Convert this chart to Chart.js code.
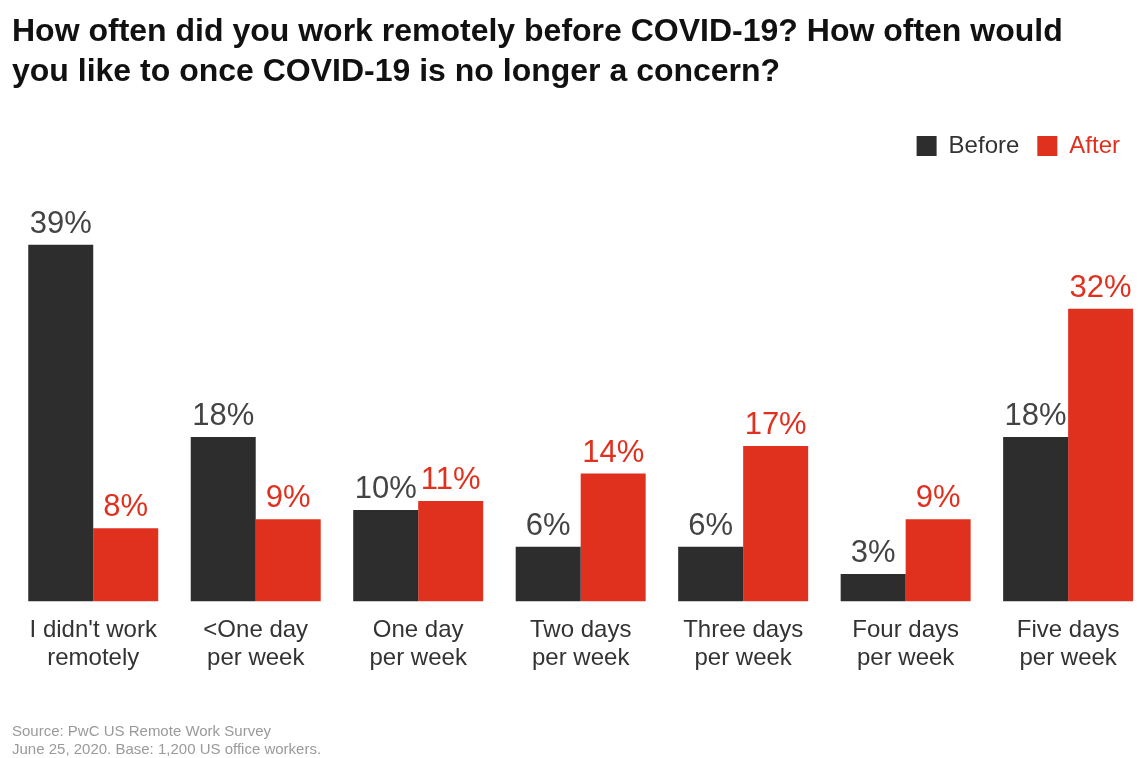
<!DOCTYPE html>
<html>
<head>
<meta charset="utf-8">
<script src="https://cdn.jsdelivr.net/npm/chart.js@4"></script>
<style>
  html, body { margin: 0; padding: 0; background: #fff; }
  #wrap { width: 1138px; height: 758px; }
</style>
</head>
<body>
<div id="wrap"><canvas id="chart"></canvas></div>
<script>
const categories = [
  ["I didn't work", "remotely"],
  ["<One day", "per week"],
  ["One day", "per week"],
  ["Two days", "per week"],
  ["Three days", "per week"],
  ["Four days", "per week"],
  ["Five days", "per week"]
];
const before = [39, 18, 10, 6, 6, 3, 18];
const after = [8, 9, 11, 14, 17, 9, 32];

const DARK = "#2d2d2d";
const RED = "#e0301e";
const FONT = "'Liberation Sans', Arial, Helvetica, sans-serif";

// category index used as x position on a linear axis
const positions = categories.map((_, i) => i);

// value labels above each bar + category names under each group
const barLabels = {
  id: "barLabels",
  afterDatasetsDraw(chart) {
    const ctx = chart.ctx;
    const xs = chart.scales.x;
    const bottom = chart.chartArea.bottom;
    ctx.save();
    ctx.font = "31px " + FONT;
    ctx.textAlign = "center";
    ctx.textBaseline = "bottom";
    chart.data.datasets.forEach((ds, i) => {
      const meta = chart.getDatasetMeta(i);
      ctx.fillStyle = i === 0 ? "#444" : RED;
      meta.data.forEach((bar, j) => {
        ctx.fillText(ds.data[j] + "%", bar.x, bar.y - 5);
      });
    });
    ctx.font = "24px " + FONT;
    ctx.fillStyle = "#333";
    ctx.textBaseline = "middle";
    categories.forEach((lines, i) => {
      const x = xs.getPixelForValue(i);
      lines.forEach((t, k) => ctx.fillText(t, x, bottom + 29 + k * 28));
    });
    ctx.restore();
  }
};

new Chart(document.getElementById("chart"), {
  type: "bar",
  data: {
    labels: positions,
    datasets: [
      { label: "Before", data: before, backgroundColor: DARK },
      { label: "After", data: after, backgroundColor: RED }
    ]
  },
  options: {
    responsive: true,
    maintainAspectRatio: false,
    animation: false,
    layout: { padding: { left: 12, right: 0, top: 0, bottom: 0 } },
    datasets: { bar: { categoryPercentage: 0.8, barPercentage: 1.0 } },
    scales: {
      x: {
        type: "linear",
        display: false,
        offset: false,
        min: -0.5,
        max: 6.43,
        ticks: { stepSize: 1, includeBounds: false }
      },
      y: {
        display: false,
        min: 0,
        max: 47.4
      }
    },
    plugins: {
      title: {
        display: true,
        align: "start",
        text: [
          "How often did you work remotely before COVID-19? How often would",
          "you like to once COVID-19 is no longer a concern?"
        ],
        color: "#111",
        font: { family: FONT, size: 32, weight: "bold", lineHeight: 1.25 },
        padding: { top: 12, bottom: 24 }
      },
      legend: {
        display: true,
        position: "top",
        align: "end",
        labels: {
          boxWidth: 20,
          boxHeight: 20,
          padding: 18,
          font: { family: FONT, size: 24 },
          generateLabels(chart) {
            return chart.data.datasets.map((ds, i) => ({
              text: ds.label,
              fillStyle: ds.backgroundColor,
              strokeStyle: ds.backgroundColor,
              lineWidth: 0,
              fontColor: i === 0 ? "#333" : RED,
              datasetIndex: i
            }));
          }
        }
      },
      subtitle: {
        display: true,
        position: "bottom",
        align: "start",
        text: [
          "Source: PwC US Remote Work Survey",
          "June 25, 2020. Base: 1,200 US office workers."
        ],
        color: "#9a9a9a",
        font: { family: FONT, size: 15, lineHeight: 1.15 },
        padding: { top: 122, bottom: 0 }
      },
      tooltip: { enabled: false }
    }
  },
  plugins: [barLabels]
});
</script>
</body>
</html>
